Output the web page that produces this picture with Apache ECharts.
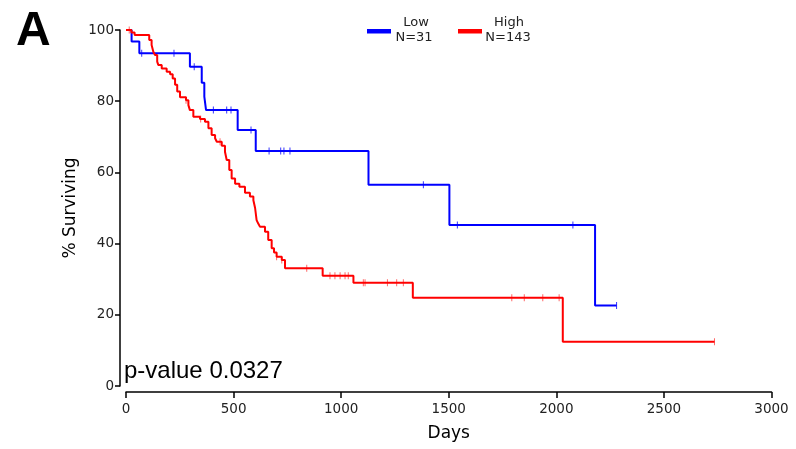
<!DOCTYPE html>
<html>
<head>
<meta charset="utf-8">
<script src="https://cdn.jsdelivr.net/npm/echarts@6/dist/echarts.min.js"></script>
<style>
  html, body { margin: 0; padding: 0; background: #fff; }
  #chart { width: 796px; height: 449px; }
</style>
</head>
<body>
<div id="chart"></div>
<script>
// survival steps [day, % surviving]
var lowSteps = [
  [0, 100], [26, 96.8], [62, 93.5], [297, 89.7], [352, 85.2], [364, 81.3],
  [372, 77.5], [519, 71.9], [603, 66.0], [1127, 56.5], [1503, 45.2],
  [2180, 22.6], [2280, 22.6]
];
var lowCensor = [
  [73, 93.5], [223, 93.5], [317, 89.7], [406, 77.5], [468, 77.5], [488, 77.5],
  [581, 71.9], [665, 66.0], [719, 66.0], [734, 66.0], [762, 66.0],
  [1382, 56.5], [1540, 45.2], [2077, 45.2], [2280, 22.6]
];
var highSteps = [
  [0, 100], [25, 99.3], [40, 98.6], [108, 97.2], [119, 95.8], [127, 93.9],
  [135, 93.0], [145, 91.1], [150, 90.2], [166, 89.2], [189, 88.3], [205, 87.6],
  [217, 86.4], [228, 84.6], [238, 82.7], [251, 81.1], [279, 80.3], [290, 78.9],
  [297, 77.5], [313, 75.6], [344, 75.0], [367, 74.2], [383, 72.4], [398, 70.5],
  [414, 69.6], [422, 68.6], [445, 67.5], [460, 65.8], [468, 63.5], [480, 60.7],
  [491, 58.3], [507, 56.8], [527, 56.0], [553, 54.3], [576, 53.2], [592, 52.2],
  [600, 50.0], [607, 46.6], [614, 45.7], [623, 44.7], [646, 43.3], [661, 41.0],
  [677, 38.7], [688, 37.5], [700, 36.3], [724, 35.4], [739, 33.1], [914, 31.0],
  [1057, 29.0], [1333, 24.8], [2030, 12.4], [2735, 12.4]
];
var highCensor = [
  [15, 100], [279, 80.3], [347, 75.0], [437, 68.6], [700, 36.3], [724, 35.4],
  [840, 33.1], [948, 31.0], [971, 31.0], [995, 31.0], [1018, 31.0], [1033, 31.0],
  [1103, 29.0], [1111, 29.0], [1215, 29.0], [1258, 29.0], [1289, 29.0],
  [1793, 24.8], [1851, 24.8], [1937, 24.8], [2013, 24.8], [2735, 12.4]
];
var xTicks = { min: 0, max: 3000, interval: 500 };
var yTicks = { min: 0, max: 100, interval: 20 };

var blue = '#0000ff';
var red = '#ff0000';
var tickFont = 'DejaVu Sans';

var chart = echarts.init(document.getElementById('chart'));

var option = {
  backgroundColor: '#fff',
  animation: false,
  grid: { left: 126, right: 24.5, top: 30, bottom: 63, containLabel: false, outerBoundsMode: 'none' },
  xAxis: {
    type: 'value',
    min: xTicks.min, max: xTicks.max, interval: xTicks.interval,
    offset: 6,
    name: 'Days', nameLocation: 'middle', nameGap: 33,
    nameTextStyle: { fontFamily: tickFont, fontSize: 17, color: '#000' },
    axisLine: { onZero: false, lineStyle: { color: '#000', width: 1.5 } },
    axisTick: { length: 6, lineStyle: { color: '#000', width: 1.5 } },
    axisLabel: { fontFamily: tickFont, fontSize: 13.5, color: '#222', margin: 10,
      formatter: function (v) { return String(v); } },
    splitLine: { show: false }
  },
  yAxis: {
    type: 'value',
    min: yTicks.min, max: yTicks.max, interval: yTicks.interval,
    offset: 6,
    name: '% Surviving', nameLocation: 'middle', nameGap: 41, nameMoveOverlap: false,
    nameTextStyle: { fontFamily: tickFont, fontSize: 17, color: '#000' },
    axisLine: { show: true, onZero: false, lineStyle: { color: '#000', width: 1.5 } },
    axisTick: { show: true, length: 5, lineStyle: { color: '#000', width: 1.5 } },
    axisLabel: { fontFamily: tickFont, fontSize: 13.5, color: '#222', margin: 6 },
    splitLine: { show: false }
  },
  series: [
    {
      name: 'Low', type: 'line', step: 'end', data: lowSteps,
      symbol: 'none', clip: false,
      lineStyle: { color: blue, width: 2 }, z: 3
    },
    {
      name: 'High', type: 'line', step: 'end', data: highSteps,
      symbol: 'none', clip: false,
      lineStyle: { color: red, width: 2 }, z: 4
    },
    {
      type: 'scatter', data: lowCensor, symbol: 'rect', symbolSize: [1, 7],
      itemStyle: { color: blue, opacity: 0.8 }, z: 5
    },
    {
      type: 'scatter', data: highCensor, symbol: 'rect', symbolSize: [1, 7],
      itemStyle: { color: red, opacity: 0.6 }, z: 5
    }
  ],
  graphic: [
    { type: 'text', left: 16, top: 8,
      style: { text: 'A', font: 'bold 48px "Liberation Sans", Arial', fill: '#000' } },
    { type: 'text', left: 124, top: 359,
      style: { text: 'p-value 0.0327', font: '24px "Liberation Sans", Arial', fill: '#000' } },
    { type: 'rect', shape: { x: 367, y: 29, width: 24, height: 4.5 }, style: { fill: blue } },
    { type: 'text', x: 416, y: 23,
      style: { text: 'Low', font: '13px "DejaVu Sans"', fill: '#222', align: 'center', verticalAlign: 'middle' } },
    { type: 'text', x: 414, y: 38,
      style: { text: 'N=31', font: '13px "DejaVu Sans"', fill: '#222', align: 'center', verticalAlign: 'middle' } },
    { type: 'rect', shape: { x: 458, y: 29, width: 24, height: 4.5 }, style: { fill: red } },
    { type: 'text', x: 509, y: 23,
      style: { text: 'High', font: '13px "DejaVu Sans"', fill: '#222', align: 'center', verticalAlign: 'middle' } },
    { type: 'text', x: 508, y: 38,
      style: { text: 'N=143', font: '13px "DejaVu Sans"', fill: '#222', align: 'center', verticalAlign: 'middle' } }
  ]
};

chart.setOption(option);
window.onresize = function () { chart.resize(); };
</script>
</body>
</html>
